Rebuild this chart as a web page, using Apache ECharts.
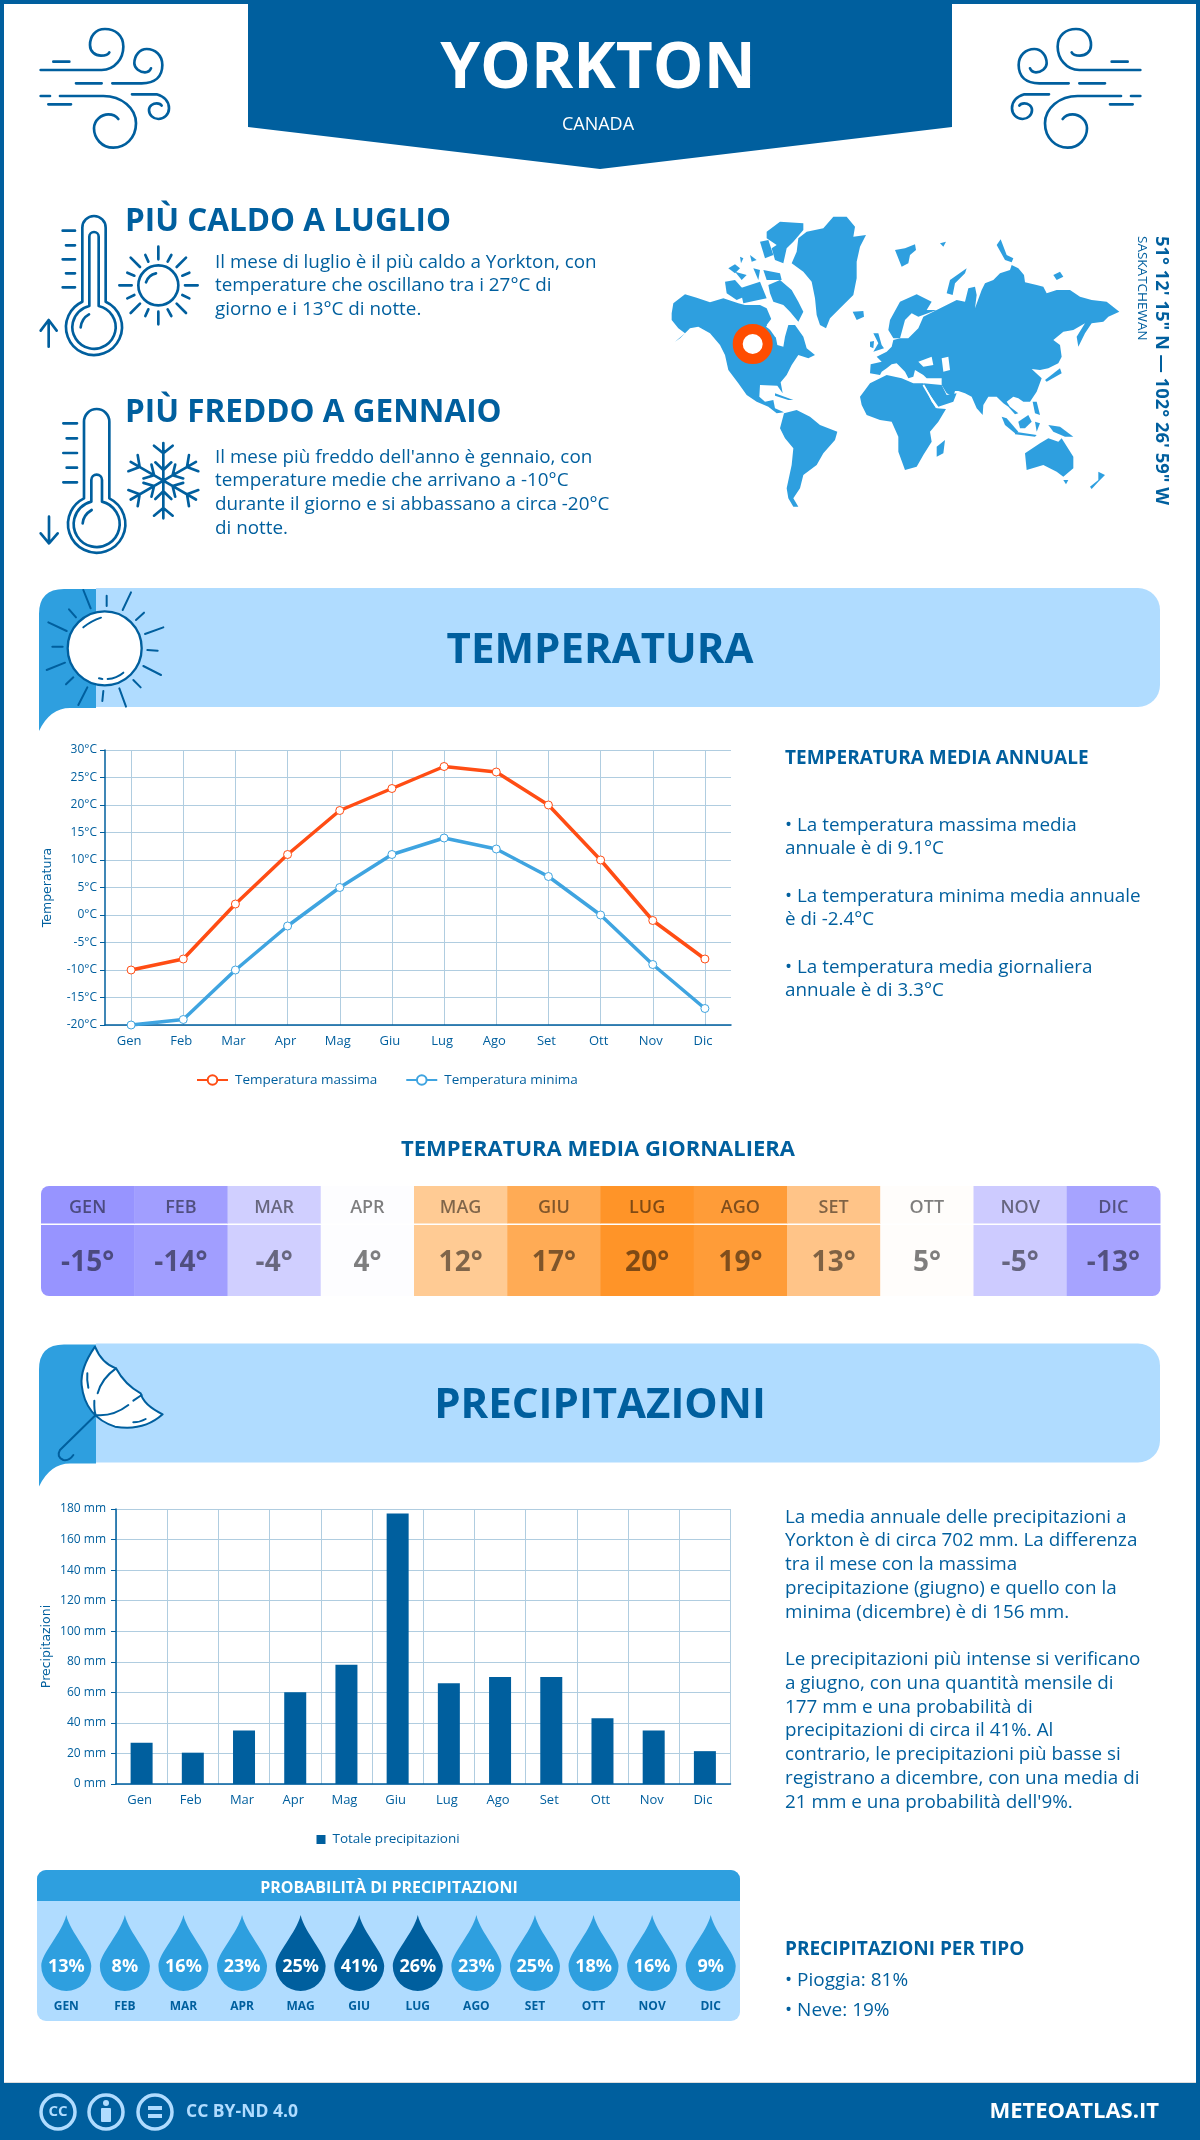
<!DOCTYPE html>
<html>
<head>
<meta charset="utf-8">
<script src="https://cdn.jsdelivr.net/npm/echarts@6/dist/echarts.min.js"></script>
<style>
html, body { margin: 0; padding: 0; background: #fff; }
#chart { width: 1200px; height: 2140px; }
</style>
</head>
<body>
<div id="chart"></div>
<script>
var months = ["Gen", "Feb", "Mar", "Apr", "Mag", "Giu", "Lug", "Ago", "Set", "Ott", "Nov", "Dic"];
var monthsUpper = ["GEN", "FEB", "MAR", "APR", "MAG", "GIU", "LUG", "AGO", "SET", "OTT", "NOV", "DIC"];
var tempMax = [-10, -8, 2, 11, 19, 23, 27, 26, 20, 10, -1, -8];
var tempMin = [-20, -19, -10, -2, 5, 11, 14, 12, 7, 0, -9, -17];
var tempDaily = [-15, -14, -4, 4, 12, 17, 20, 19, 13, 5, -5, -13];
var tempDailyColors = ["#9794ff", "#a19eff", "#d0cfff", "#fdfdff", "#ffcb94", "#ffab55", "#ff9428", "#ff9c38", "#ffc488", "#fffdfb", "#cdcbff", "#a6a3ff"];
var precip = [27, 20.5, 35, 60, 78, 177, 66, 70, 70, 43, 35, 21.5];
var precipProb = [13, 8, 16, 23, 25, 41, 26, 23, 25, 18, 16, 9];
var precipProbDark = ["MAG", "GIU", "LUG"];

var BLUE = "#005f9e", MID = "#2e9fdf", LIGHT = "#b0dcff", GRID = "#b0cde0";
var FONT = '"Open Sans", sans-serif';

var els = [];
var iconEls = [];

function text(x, base, str, size, weight, fill, align, rot) {
	els.push({
		type: "text", x: x, y: base, rotation: rot || 0, z: 5,
		style: {
			text: str, x: 0, y: rot ? 0 : -0.36 * size, align: align || "left", verticalAlign: "middle",
			font: (weight || 400) + " " + size + "px " + FONT, fill: fill || BLUE
		}
	});
}
// icons are traced at 3x from a crop origin, so they are scaled back down
function icon(ox, oy, d, lw, fill, stroke, sx, sy) {
	iconEls.push({
		type: "path", x: ox, y: oy, scaleX: sx || 1 / 3, scaleY: sy || 1 / 3,
		shape: { pathData: d },
		style: { fill: fill || "none", stroke: stroke === undefined ? BLUE : stroke, lineWidth: lw, lineCap: "round", lineJoin: "round" }
	});
}
function mapPoly(s, fill) {
	var pts = s.trim().split(/\s+/).map(function (p) {
		var c = p.split(",");
		return [660 + c[0] / 3, 205 + c[1] / 3];
	});
	els.push({ type: "polygon", z: 2, shape: { points: pts }, style: { fill: fill } });
}

// frame and header
els.push({ type: "rect", z: 1, shape: { x: 0, y: 0, width: 4, height: 2140 }, style: { fill: BLUE } });
els.push({ type: "rect", z: 1, shape: { x: 1196, y: 0, width: 4, height: 2140 }, style: { fill: BLUE } });
els.push({ type: "rect", z: 1, shape: { x: 0, y: 0, width: 1200, height: 4 }, style: { fill: BLUE } });
els.push({ type: "polygon", z: 1, shape: { points: [[248, 0], [952, 0], [952, 127], [600, 169], [248, 127]] }, style: { fill: BLUE } });
text(598, 92.5, "YORKTON", 64, 700, "#fff", "center");
text(598, 131, "CANADA", 18, 400, "#fff", "center");

var windPath = "M85,140 H133 M47,165 H230 C270,165 295,130 295,95 C295,60 270,42 240,42 C210,42 195,65 195,90 C195,110 210,122 228,122 C240,122 250,118 253,112 " +
	"M153,205 H230 M262,205 H350 C390,205 412,185 412,150 C412,120 390,102 365,102 C345,102 328,120 328,145 C328,160 345,172 360,172 C370,172 376,165 378,160 " +
	"M47,243 H75 M105,243 H235 C290,243 333,280 333,325 C333,370 300,398 265,398 C230,398 207,370 207,340 C207,315 230,298 250,298 C265,298 275,305 280,312 " +
	"M70,268 H138 M321,238 H395 C420,245 432,262 432,280 C432,298 418,312 400,312 C385,312 372,300 372,285 C372,272 385,265 395,265 C402,265 408,268 410,272";
icon(25, 15, windPath, 8);
icon(1156, 15, windPath, 8, null, undefined, -1 / 3);

// hot and cold notes
text(125, 233.5, "PIÙ CALDO A LUGLIO", 31.5, 700);
["Il mese di luglio è il più caldo a Yorkton, con", "temperature che oscillano tra i 27°C di", "giorno e i 13°C di notte."].forEach(function (l, i) {
	text(215, 269 + i * 23.7, l, 18.85);
});
text(125, 424, "PIÙ FREDDO A GENNAIO", 31.5, 700);
["Il mese più freddo dell'anno è gennaio, con", "temperature medie che arrivano a -10°C", "durante il giorno e si abbassano a circa -20°C", "di notte."].forEach(function (l, i) {
	text(215, 464 + i * 23.7, l, 18.85);
});

icon(30, 205, "M157,290 L157,68 A35,35 0 0 1 227,68 L227,290 A84,84 0 1 1 157,290 Z M178,303 L178,95 A14,14 0 0 1 206,95 L206,303 A65,65 0 1 1 178,303 Z M152,367 Q155,340 177,328 " +
	"M98,77 H135 M108,121 H135 M98,163 H135 M108,205 H135 M98,247 H135 M56,425 V345 M32,377 L56,345 L80,377", 8);
icon(30, 205, "M445,241 A60,60 0 1 1 325,241 A60,60 0 1 1 445,241 Z M348,232 Q355,210 378,205 M385,125 V163 M385,320 V358 M268,241 H305 M465,241 H503 " +
	"M302,158 L330,186 M468,158 L440,186 M302,324 L330,296 M468,324 L440,296 M346,150 L355,170 M424,150 L413,170 M292,203 L313,212 M478,203 L457,212 " +
	"M292,280 L313,270 M478,280 L457,270 M346,333 L355,313 M424,333 L413,313", 8);
icon(30, 205, "M162,880 L162,650 A38,38 0 0 1 238,650 L238,880 A86,86 0 1 1 162,880 Z M184,890 L184,825 A16,16 0 0 1 216,825 L216,890 A69,69 0 1 1 184,890 Z M158,955 Q160,930 185,915 " +
	"M100,655 H141 M110,700 H141 M100,744 H141 M110,788 H141 M100,832 H141 M57,935 V1015 M32,985 L57,1015 L83,985", 8);

var flake = "";
for (var a = 0; a < 6; a++) {
	var t = a * Math.PI / 3, ux = Math.sin(t), uy = -Math.cos(t), vx = -uy, vy = ux;
	var pt = function (al, si) { return (400 + ux * al + vx * si).toFixed(1) + "," + (827 + uy * al + vy * si).toFixed(1); };
	flake += "M400,827 L" + pt(113, 0) + " M" + pt(105, -28) + " L" + pt(82, 0) + " L" + pt(105, 28) + " M" + pt(55, -24) + " L" + pt(32, 0) + " L" + pt(55, 24) + " ";
}
icon(30, 205, flake, 8);

// world map, traced by hand at 3x from the crop origin
var land = [
	"35,325 40,295 75,268 110,278 150,292 190,280 235,295 255,300 300,300 320,310 335,345 318,365 345,385 352,420 370,425 375,395 385,360 405,360 430,395 440,430 465,450 445,460 415,450 395,480 380,510 362,532 368,565 352,542 300,540 298,575 315,590 340,585 345,610 372,622 350,625 325,605 290,590 260,570 235,535 205,495 195,450 180,420 150,385 115,365 90,370 60,400 45,410 75,385 55,370 35,345",
	"372,625 410,615 450,635 480,660 532,680 525,705 490,745 470,780 430,810 420,850 400,880 415,905 400,905 385,880 380,850 395,780 400,730 375,700 360,670",
	"415,100 440,80 490,70 520,35 560,35 585,65 580,95 618,90 600,125 590,170 590,220 580,270 540,310 510,340 498,370 480,360 470,330 465,280 455,230 430,200 395,175 410,140",
	"320,80 360,50 430,55 430,75 400,110 380,130 370,175 345,165 335,130 350,120 320,100",
	"325,240 360,225 395,255 415,290 430,320 415,350 390,320 370,300 340,290 330,265",
	"195,230 225,225 265,270 230,285 200,265",
	"300,110 325,105 340,150 315,160",
	"205,190 225,178 240,190 225,205",
	"225,200 260,210 245,225",
	"280,190 300,195 295,225",
	"310,195 360,205 365,225 320,225",
	"240,250 300,230 320,280 250,295",
	"240,155 250,160 243,175",
	"270,150 290,165 275,170",
	"578,320 610,318 612,335 590,345",
	"705,135 735,130 765,118 768,135 750,150 745,175 725,185",
	"860,265 870,225 920,190 915,205 885,235 878,270",
	"1010,120 1022,103 1040,150 1060,160 1055,172 1035,165",
	"1180,210 1200,200 1210,215 1190,225",
	"840,115 858,110 850,125",
	"640,385 655,385 665,420 672,430 640,440 655,415",
	"630,410 642,408 640,430 630,425",
	"685,375 690,345 720,290 770,268 815,290 800,315 830,315 775,335 755,325 735,345 720,400 700,400",
	"830,315 860,300 890,285 915,290 925,250 945,245 950,270 945,310 965,255 975,235 1000,225 1020,205 1050,195 1055,180 1075,190 1092,210 1095,232 1130,240 1150,245 1160,265 1190,255 1230,255 1260,275 1295,285 1340,290 1378,320 1345,335 1330,350 1295,355 1275,385 1255,425 1250,395 1275,355 1240,375 1210,380 1180,405 1200,420 1205,455 1195,475 1165,490 1140,495 1115,492 1145,520 1130,560 1110,590 1090,590 1075,580 1060,575 1040,590 1050,605 1075,625 1065,628 1045,605 1030,595 1010,575 985,575 970,600 968,630 950,610 935,575 915,565 895,558 885,558 880,575 860,565 845,540 845,520 800,520 790,510 765,495 760,515 745,520 735,500 710,475 695,478 680,490 665,500 660,510 630,505 632,478 665,470 650,455 680,440 695,425 700,405 720,400 745,400 760,385 775,370 790,335",
	"790,535 845,540 860,570 890,565 880,590 835,605 810,570",
	"600,575 630,535 680,510 725,520 760,535 790,535 815,590 830,610 858,612 835,650 810,680 815,710 790,750 770,785 735,795 715,740 715,695 695,650 660,645 620,630 605,600",
	"855,705 850,745 830,755 830,725",
	"1095,745 1140,715 1165,700 1195,710 1205,700 1240,755 1240,790 1210,815 1190,800 1150,780 1100,795",
	"1210,825 1225,825 1218,838",
	"1315,800 1335,810 1315,830 1295,852 1290,845 1315,825",
	"1025,635 1040,640 1075,680 1065,685 1035,660",
	"1065,680 1130,690 1125,695 1065,688",
	"1075,650 1105,630 1115,650 1095,670 1080,670",
	"1125,650 1140,655 1130,680",
	"1165,660 1200,665 1240,695 1215,695 1180,680",
	"1118,590 1130,590 1140,630 1125,625",
	"1155,525 1200,490 1205,505 1160,530",
	"345,565 400,585 385,585 345,572"
];
var seas = [
	"775,470 815,455 820,480 790,485",
	"845,460 865,455 870,495 850,500",
	"320,360 350,320 375,365 360,405 345,395"
];
land.forEach(function (s) { mapPoly(s, MID); });
seas.forEach(function (s) { mapPoly(s, "#fff"); });
els.push({ type: "line", z: 2, shape: { x1: 923.3, y1: 385, x2: 936.7, y2: 407.7 }, style: { stroke: "#fff", lineWidth: 1.7 } });
els.push({ type: "circle", z: 4, shape: { cx: 752.7, cy: 344, r: 15 }, style: { fill: "#fff", stroke: "#ff4d00", lineWidth: 10 } });
text(1161.5, 236, "51° 12' 15\" N — 102° 26' 59\" W", 18.4, 700, BLUE, "left", -Math.PI / 2);
text(1142, 236, "SASKATCHEWAN", 13.5, 400, BLUE, "left", -Math.PI / 2);

// section banners
function banner(y, title) {
	els.push({ type: "rect", z: 1, shape: { x: 96, y: y, width: 1064, height: 119, r: [0, 22, 22, 0] }, style: { fill: LIGHT } });
	icon(0, y, "M39,143 L39,26 Q39,1 64,1 L96,1 L96,120 L70,120 Q50,120 39,143 Z", 0, MID, "none", 1, 1);
	text(600, y + 78, title, 42, 700, BLUE, "center");
}
banner(588, "TEMPERATURA");
banner(1343.5, "PRECIPITAZIONI");

icon(30, 580, "M335,205 A111,111 0 1 1 113,205 A111,111 0 1 1 335,205 Z", 7, "#fff");
icon(30, 580, "M160,142 Q185,122 213,113 M207,295 L217,297 M233,297 Q260,295 280,278 " +
	"M160,30 L182,85 M230,47 L230,78 M303,37 L278,90 M342,98 L318,120 M400,142 L345,162 M352,210 L383,212 M340,258 L393,285 M310,300 L332,322 " +
	"M268,325 L288,380 M220,333 L217,363 M172,322 L145,375 M130,292 L108,313 M105,248 L50,270 M98,200 L67,200 M110,153 L55,127 M138,112 L117,88", 6);
icon(30, 1335, "M195,35 Q150,100 155,150 Q165,245 255,275 Q340,290 398,238 Q340,210 332,175 Q285,150 258,100 Q215,85 195,35 Z", 6, "#fff");
icon(30, 1335, "M258,100 Q215,130 203,175 M193,197 Q192,225 197,240 Q250,245 295,210 M310,197 L335,180 M172,115 Q170,135 175,158 M310,262 Q330,262 347,252 " +
	"M197,240 L90,345 Q78,365 100,375 Q118,378 130,360", 6);

// temperature side notes
text(785, 765.5, "TEMPERATURA MEDIA ANNUALE", 19, 700);
[["• La temperatura massima media", "annuale è di 9.1°C"], ["• La temperatura minima media annuale", "è di -2.4°C"], ["• La temperatura media giornaliera", "annuale è di 3.3°C"]].forEach(function (p, i) {
	text(785, 832 + i * 71, p[0], 18.85);
	text(785, 855 + i * 71, p[1], 18.85);
});
text(598, 1158, "TEMPERATURA MEDIA GIORNALIERA", 22, 700, BLUE, "center");

// precipitation side notes
["La media annuale delle precipitazioni a", "Yorkton è di circa 702 mm. La differenza", "tra il mese con la massima", "precipitazione (giugno) e quello con la", "minima (dicembre) è di 156 mm.", "",
	"Le precipitazioni più intense si verificano", "a giugno, con una quantità mensile di", "177 mm e una probabilità di", "precipitazioni di circa il 41%. Al", "contrario, le precipitazioni più basse si", "registrano a dicembre, con una media di", "21 mm e una probabilità dell'9%."].forEach(function (l, i) {
	if (l) text(785, 1524 + i * 23.75, l, 18.85);
});
text(785, 1956, "PRECIPITAZIONI PER TIPO", 19, 700);
text(785, 1987.5, "• Pioggia: 81%", 19);
text(785, 2017, "• Neve: 19%", 19);

// probability panel
els.push({ type: "rect", z: 1, shape: { x: 37, y: 1870, width: 703, height: 151, r: 9 }, style: { fill: LIGHT } });
els.push({ type: "rect", z: 1, shape: { x: 37, y: 1870, width: 703, height: 31, r: [9, 9, 0, 0] }, style: { fill: MID } });
text(389, 1894, "PROBABILITÀ DI PRECIPITAZIONI", 16, 700, "#fff", "center");

// footer
els.push({ type: "rect", z: 1, shape: { x: 0, y: 2083, width: 1200, height: 57 }, style: { fill: BLUE } });
els.push({ type: "rect", z: 1, shape: { x: 4, y: 2082, width: 1192, height: 1 }, style: { fill: "#dddddd" } });
[58, 106, 155].forEach(function (cx) {
	els.push({ type: "circle", z: 3, shape: { cx: cx, cy: 2112, r: 17 }, style: { fill: "none", stroke: LIGHT, lineWidth: 3.5 } });
});
text(58, 2117, "CC", 15, 700, LIGHT, "center");
els.push({ type: "circle", z: 3, shape: { cx: 106, cy: 2103, r: 3 }, style: { fill: LIGHT } });
els.push({ type: "rect", z: 3, shape: { x: 101, y: 2108, width: 10, height: 14, r: 1 }, style: { fill: LIGHT } });
els.push({ type: "rect", z: 3, shape: { x: 148, y: 2106, width: 14, height: 4 }, style: { fill: LIGHT } });
els.push({ type: "rect", z: 3, shape: { x: 148, y: 2114, width: 14, height: 4 }, style: { fill: LIGHT } });
text(186, 2118, "CC BY-ND 4.0", 17.5, 700, LIGHT);
text(1159, 2120, "METEOATLAS.IT", 22, 700, "#fff", "right");

function dailyCell(params, api) {
	var i = params.dataIndex, p0 = api.coord([i, 0]), size = api.size([1, 0])[0];
	var left = p0[0] - size / 2, bottom = p0[1], top = api.coord([i, 110])[1], mid = api.coord([i, 71])[1];
	var tl = i === 0 ? 8 : 0, tr = i === 11 ? 8 : 0;
	var shade = "rgba(0,0,0,0.5)";
	return {
		type: "group", children: [
			{ type: "rect", shape: { x: left, y: top, width: size + 0.5, height: mid - top - 1.5, r: [tl, tr, 0, 0] }, style: { fill: tempDailyColors[i] } },
			{ type: "rect", shape: { x: left, y: mid, width: size + 0.5, height: bottom - mid, r: [0, 0, tr, tl] }, style: { fill: tempDailyColors[i] } },
			{ type: "text", x: p0[0], y: top + 22, style: { text: monthsUpper[i], align: "center", verticalAlign: "middle", font: "600 18px " + FONT, fill: shade } },
			{ type: "text", x: p0[0], y: mid + 38, style: { text: api.value(1) + "°", align: "center", verticalAlign: "middle", font: "700 28px " + FONT, fill: shade } }
		]
	};
}

var chart = echarts.init(document.getElementById("chart"));
chart.setOption({
	animation: false,
	backgroundColor: "#fff",
	textStyle: { fontFamily: FONT },
	graphic: { elements: els },
	legend: [
		{ left: 196, top: 1073, padding: 0, itemWidth: 31, itemHeight: 12, itemGap: 28, data: ["Temperatura massima", "Temperatura minima"], textStyle: { color: BLUE, fontSize: 13.5, fontFamily: FONT, padding: [0, 0, 0, 2] } },
		{ left: 316.5, top: 1832.5, padding: 0, itemWidth: 9, itemHeight: 9, data: ["Totale precipitazioni"], icon: "rect", textStyle: { color: BLUE, fontSize: 13.5, fontFamily: FONT, padding: [0, 0, 0, 2] } }
	],
	grid: [
		{ left: 105, top: 750, width: 626, height: 275 },
		{ left: 41, top: 1186, width: 1119, height: 110 },
		{ left: 116, top: 1509, width: 614.5, height: 275 },
		{ left: 37, top: 1915, width: 703, height: 76 }
	],
	xAxis: [
		{
			gridIndex: 0, type: "category", data: months,
			axisLine: { onZero: false, lineStyle: { color: BLUE, width: 1.5 } }, axisTick: { show: false },
			axisLabel: { color: BLUE, fontSize: 13, margin: 10, padding: [0, 4, 0, 0] },
			splitLine: { show: true, alignWithLabel: true, lineStyle: { color: GRID, width: 1 } }
		},
		{ gridIndex: 1, type: "category", data: monthsUpper, show: false },
		{
			gridIndex: 2, type: "category", data: months,
			axisLine: { onZero: false, lineStyle: { color: BLUE, width: 1.5 } }, axisTick: { show: false },
			axisLabel: { color: BLUE, fontSize: 13, margin: 10, padding: [0, 4, 0, 0] },
			splitLine: { show: true, lineStyle: { color: GRID, width: 1 } }
		},
		{
			gridIndex: 3, type: "category", data: monthsUpper, z: 3,
			axisLine: { show: false }, axisTick: { show: false },
			axisLabel: { color: BLUE, fontSize: 12, fontWeight: 700, margin: 10 }
		}
	],
	yAxis: [
		{
			gridIndex: 0, type: "value", min: -20, max: 30, interval: 5,
			name: "Temperatura", nameLocation: "middle", nameRotate: 90, nameGap: 51, nameMoveOverlap: false,
			nameTextStyle: { color: BLUE, fontSize: 12.5, fontFamily: "DejaVu Sans" },
			axisLine: { show: true, lineStyle: { color: BLUE, width: 1.5 } },
			axisTick: { show: true, length: 5, lineStyle: { color: BLUE } },
			axisLabel: { color: BLUE, fontSize: 12, margin: 8, formatter: "{value}°C" },
			splitLine: { lineStyle: { color: GRID, width: 1.2 } }
		},
		{ gridIndex: 1, type: "value", min: 0, max: 110, show: false },
		{
			gridIndex: 2, type: "value", min: 0, max: 180, interval: 20,
			name: "Precipitazioni", nameLocation: "middle", nameRotate: 90, nameGap: 63, nameMoveOverlap: false,
			nameTextStyle: { color: BLUE, fontSize: 12.5, fontFamily: "DejaVu Sans" },
			axisLine: { show: true, lineStyle: { color: BLUE, width: 1.5 } },
			axisTick: { show: true, length: 5, lineStyle: { color: BLUE } },
			axisLabel: { color: BLUE, fontSize: 12, margin: 10, formatter: "{value} mm" },
			splitLine: { lineStyle: { color: GRID, width: 1.2 } }
		},
		{ gridIndex: 3, type: "value", min: 0, max: 1, show: false }
	],
	series: [
		{
			type: "custom", coordinateSystem: "none", silent: true, z: 2, data: [0],
			renderItem: function () { return { type: "group", children: iconEls }; }
		},
		{
			name: "Temperatura massima", type: "line", xAxisIndex: 0, yAxisIndex: 0, data: tempMax, clip: false,
			symbol: "circle", symbolSize: 8, showAllSymbol: true,
			lineStyle: { color: "#ff4d14", width: 3.5 }, itemStyle: { color: "#fff", borderColor: "#ff4d14", borderWidth: 1 }
		},
		{
			name: "Temperatura minima", type: "line", xAxisIndex: 0, yAxisIndex: 0, data: tempMin, clip: false,
			symbol: "circle", symbolSize: 8, showAllSymbol: true,
			lineStyle: { color: "#3fa4e0", width: 3.5 }, itemStyle: { color: "#fff", borderColor: "#3fa4e0", borderWidth: 1 }
		},
		{
			type: "custom", xAxisIndex: 1, yAxisIndex: 1, renderItem: dailyCell, clip: false,
			encode: { x: 0, y: 1 },
			data: tempDaily.map(function (v, i) { return [i, v]; })
		},
		{
			name: "Totale precipitazioni", type: "bar", xAxisIndex: 2, yAxisIndex: 2, data: precip,
			barWidth: 22, itemStyle: { color: BLUE }
		},
		{
			type: "scatter", xAxisIndex: 3, yAxisIndex: 3, clip: false,
			symbol: "path://M25,0 C29,18 50,38 50,51 A25,25 0 0 1 0,51 C0,38 21,18 25,0 Z", symbolSize: [50, 76],
			label: {
				show: true, position: "inside", offset: [0, 14], color: "#fff", fontSize: 18, fontWeight: 700, fontFamily: FONT,
				formatter: function (p) { return p.value[2] + "%"; }
			},
			data: precipProb.map(function (v, i) {
				return { value: [i, 0.5, v], itemStyle: { opacity: 1, color: precipProbDark.indexOf(monthsUpper[i]) >= 0 ? BLUE : MID } };
			})
		}
	]
});
</script>
</body>
</html>
